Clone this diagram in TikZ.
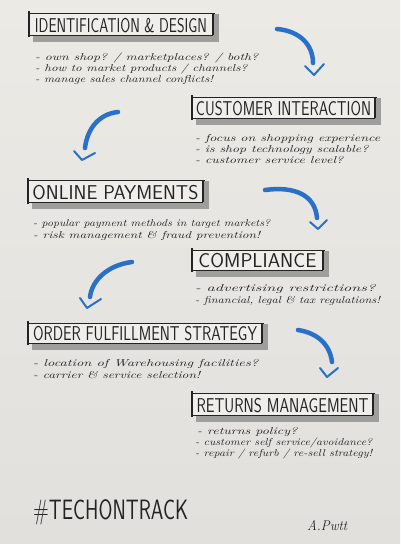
\documentclass[tikz,border=0pt]{standalone}
\usepackage{graphicx}
\definecolor{paper}{RGB}{236,234,229}
\definecolor{paperlow}{RGB}{226,224,221}
\definecolor{boxfill}{RGB}{240,238,234}
\definecolor{shadowgray}{RGB}{158,158,156}
\definecolor{ink}{RGB}{35,35,35}
\definecolor{markerblue}{RGB}{40,112,200}
\tikzset{
 frameline/.style={draw=ink, line width=0.7pt},
 endbar/.style={draw=ink, line width=1.6pt},
 shadowfill/.style={fill=shadowgray},
 titletext/.style={anchor=base, inner sep=0pt, text=ink, font=\sffamily\fontsize{20}{20}\selectfont},
 bullettext/.style={anchor=base west, inner sep=0pt, text=ink, font=\itshape\fontsize{10}{10}\selectfont},
 arrowstroke/.style={draw=markerblue, line width=4.5pt, line cap=round},
 arrowtip/.style={draw=markerblue, line width=2pt, line cap=round, line join=round},
}
\newcommand{\titlebox}[7]{%
  \fill[shadowfill] (#2+4,#5) rectangle (#4+6,#5+7);
  \fill[shadowfill] (#4,#3+1) rectangle (#4+6,#5+7);
  \fill[boxfill] (#2,#3) rectangle (#4,#5);
  \draw[frameline] (#2,#3) -- (#4+2,#3);
  \draw[frameline] (#2,#5) -- (#4,#5);
  \draw[endbar] (#2,#3-2) -- (#2,#5+2);
  \draw[endbar] (#4,#3) -- (#4,#5);
  \node[titletext] (#1) at ({(#2+#4)/2},#5-3) {\resizebox{#6pt}{\height}{#7}};
}
\newcommand{\bulline}[5]{\node[bullettext] (#1) at (#2,#3) {\resizebox{#4pt}{\height}{#5}};}
\begin{document}
\begin{tikzpicture}[x=1pt,y=-1pt]
\useasboundingbox (0,0) rectangle (400,544);
\shade[top color=paper, bottom color=paperlow] (0,0) rectangle (400,544);

% boxes
\titlebox{t1}{29}{13}{213}{35}{172}{IDENTIFICATION \& DESIGN}
\titlebox{t2}{192}{97}{375}{118}{175}{CUSTOMER INTERACTION}
\titlebox{t3}{28}{180}{203}{202}{166}{ONLINE PAYMENTS}
\titlebox{t4}{192}{250}{323}{270}{118}{COMPLIANCE}
\titlebox{t5}{28}{323}{262}{343}{224}{ORDER FULFILLMENT STRATEGY}
\titlebox{t6}{192}{393}{373}{415}{172}{RETURNS MANAGEMENT}

% bullets
\bulline{b11}{35}{60}{223}{- own shop? / marketplaces? / both?}
\bulline{b12}{35}{71}{212}{- how to market products / channels?}
\bulline{b13}{35}{82}{178}{- manage sales channel conflicts!}

\bulline{b21}{195}{141}{185}{- focus on shopping experience}
\bulline{b22}{195}{152}{173}{- is shop technology scalable?}
\bulline{b23}{195}{163}{148}{- customer service level?}

\bulline{b31}{33}{226}{237}{- popular payment methods in target markets?}
\bulline{b32}{33}{238}{227}{- risk management \& fraud prevention!}

\bulline{b41}{195}{291}{180}{- advertising restrictions?}
\bulline{b42}{195}{303}{185}{- financial, legal \& tax regulations!}

\bulline{b51}{33}{366}{225}{- location of Warehousing facilities?}
\bulline{b52}{33}{378}{167}{- carrier \& service selection!}

\bulline{b61}{197}{434}{100}{- returns policy?}
\bulline{b62}{195}{445}{177}{- customer self service/avoidance?}
\bulline{b63}{195}{456}{177}{- repair / refurb / re-sell strategy!}

% arrows
\coordinate (a1s) at (277,29); \coordinate (a1e) at (313,63); \coordinate (a1t) at (314,75);
\draw[arrowstroke] (a1s) .. controls (300,31) and (313,45) .. (a1e);
\draw[arrowtip] (305,66) -- (a1t) -- (324,64);

\coordinate (a2s) at (118,112); \coordinate (a2e) at (85,148); \coordinate (a2t) at (82,160);
\draw[arrowstroke] (a2s) .. controls (98,114) and (87,130) .. (a2e);
\draw[arrowtip] (74,151) -- (a2t) -- (95,153);

\coordinate (a3s) at (265,190); \coordinate (a3e) at (317,218); \coordinate (a3t) at (318,229);
\draw[arrowstroke] (a3s) .. controls (295,186) and (315,195) .. (a3e);
\draw[arrowtip] (310,222) -- (a3t) -- (327,220);

\coordinate (a4s) at (132,262); \coordinate (a4e) at (90,297); \coordinate (a4t) at (87,308);
\draw[arrowstroke] (a4s) .. controls (108,265) and (92,280) .. (a4e);
\draw[arrowtip] (80,298) -- (a4t) -- (101,299);

\coordinate (a5s) at (298,330); \coordinate (a5e) at (332,362); \coordinate (a5t) at (327,377);
\draw[arrowstroke] (a5s) .. controls (318,333) and (330,345) .. (a5e);
\draw[arrowtip] (320,368) -- (a5t) -- (338,368);

% footer
\node[anchor=base west, inner sep=0pt, text=ink, font=\sffamily\fontsize{28}{28}\selectfont] (tag) at (33,519) {\resizebox{155pt}{\height}{\#TECHONTRACK}};
\node[anchor=base west, inner sep=0pt, text=ink, font=\itshape\fontsize{14}{14}\selectfont] (sig) at (307,530) {\resizebox{40pt}{\height}{A.Pwtt}};
\end{tikzpicture}
\end{document}
